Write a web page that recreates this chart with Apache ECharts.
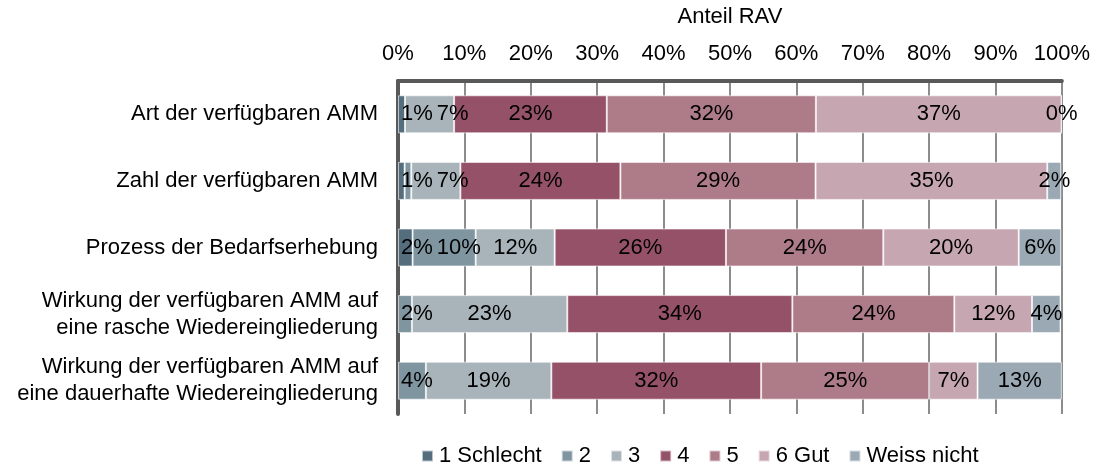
<!DOCTYPE html>
<html>
<head>
<meta charset="utf-8">
<script src="https://cdn.jsdelivr.net/npm/echarts@6/dist/echarts.min.js"></script>
<style>
  html, body { margin: 0; padding: 0; background: #fff; }
  #chart { width: 1093px; height: 462px; }
</style>
</head>
<body>
<div id="chart"></div>
<script>
// categories (top to bottom)
const categories = [
  'Art der verfügbaren AMM',
  'Zahl der verfügbaren AMM',
  'Prozess der Bedarfserhebung',
  'Wirkung der verfügbaren AMM auf\neine rasche Wiedereingliederung',
  'Wirkung der verfügbaren AMM auf\neine dauerhafte Wiedereingliederung'
];

const seriesNames = ['1 Schlecht', '2', '3', '4', '5', '6 Gut', 'Weiss nicht'];

// shares in percent, one array per answer, one entry per category
const schlecht   = [1.05, 1.0, 2.2, null, null];
const zwei       = [null, 1.0, 9.5, 2.1, 4.2];
const drei       = [7.4, 7.4, 11.9, 23.4, 18.9];
const vier       = [23.0, 24.1, 25.8, 33.9, 31.6];
const fuenf      = [31.5, 29.4, 23.7, 24.4, 25.3];
const gut        = [37.0, 34.9, 20.4, 11.7, 7.3];
const weissNicht = [0, 2.1, 6.4, 4.3, 12.7];

const seriesValues = [schlecht, zwei, drei, vier, fuenf, gut, weissNicht];
const colors = ['#546e7e', '#7f95a0', '#a9b4ba', '#955168', '#ae7b89', '#c6a6b0', '#9aa9b3'];

// labels Excel did not draw (row, series)
const hiddenLabels = [[1, 1]];

const axisTicks = [0, 10, 20, 30, 40, 50, 60, 70, 80, 90, 100];

const gridLeft = 398, gridRight = 31;
const plotWidth = 1093 - gridLeft - gridRight;
const font = '22px "Liberation Sans", Arial, sans-serif';

const measure = document.createElement('canvas').getContext('2d');
measure.font = font;

const pct = v => Math.round(v) + '%';

function labelShown(row, s) {
  return !hiddenLabels.some(h => h[0] === row && h[1] === s);
}

// centre labels in their segment, but push them right when they collide
function labelCenter(row, sIdx) {
  let prevRight = gridLeft + 3, cum = 0, result = null;
  seriesValues.forEach((vals, s) => {
    const v = vals[row];
    if (v == null) return;
    const a = cum;
    cum += v;
    if (!labelShown(row, s)) return;
    const c = gridLeft + (a + cum) / 2 / 100 * plotWidth;
    const w = measure.measureText(pct(v)).width;
    const left = Math.max(c - w / 2, prevRight);
    prevRight = left + w + 4;
    if (s === sIdx) result = left + w / 2;
  });
  return result;
}

const chart = echarts.init(document.getElementById('chart'));

chart.setOption({
  animation: false,
  textStyle: { fontFamily: '"Liberation Sans", Arial, sans-serif' },
  grid: { left: gridLeft, right: gridRight, top: 81, bottom: 48 },
  legend: {
    left: 416,
    top: 440,
    itemWidth: 11,
    itemHeight: 11,
    itemGap: 19,
    icon: 'rect',
    textStyle: { fontSize: 22, color: '#000', padding: [0, 0, 0, 1] },
    data: seriesNames
  },
  xAxis: {
    type: 'value',
    position: 'top',
    min: axisTicks[0],
    max: axisTicks[axisTicks.length - 1],
    interval: 10,
    name: 'Anteil RAV',
    nameLocation: 'middle',
    nameGap: 53,
    nameTextStyle: { fontSize: 22, color: '#000' },
    axisLine: { show: true, lineStyle: { color: '#595959', width: 4 } },
    axisTick: { show: false },
    axisLabel: { fontSize: 22, color: '#000', margin: 16, formatter: '{value}%' },
    splitLine: { show: true, lineStyle: { color: '#8c8c8c', width: 2 } }
  },
  yAxis: {
    type: 'category',
    inverse: true,
    data: categories,
    axisLine: { show: true, lineStyle: { color: '#595959', width: 4 } },
    axisTick: { show: false },
    axisLabel: { fontSize: 22, color: '#000', margin: 20, lineHeight: 27, align: 'right' }
  },
  series: seriesNames.map((name, s) => ({
    name: name,
    type: 'bar',
    stack: 'total',
    barWidth: 38,
    color: colors[s],
    itemStyle: { borderColor: 'rgba(255,255,255,0.6)', borderWidth: 1 },
    label: {
      show: true,
      position: 'inside',
      fontSize: 22,
      color: '#000',
      formatter: p => labelShown(p.dataIndex, s) ? pct(p.value) : ''
    },
    labelLayout: params => {
      const x = labelCenter(params.dataIndex, params.seriesIndex);
      if (x == null) return {};
      return {
        x: x,
        y: params.rect.y + params.rect.height / 2,
        align: 'center',
        verticalAlign: 'middle'
      };
    },
    data: seriesValues[s]
  }))
});
</script>
</body>
</html>
